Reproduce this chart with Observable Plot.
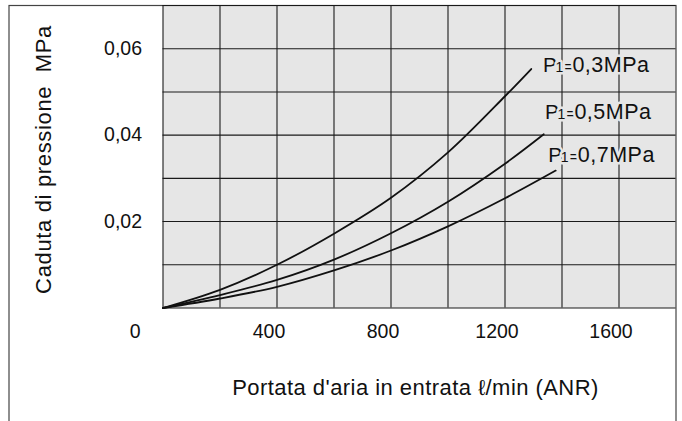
<!DOCTYPE html>
<html><head><meta charset="utf-8">
<script src="https://cdn.jsdelivr.net/npm/d3@7"></script>
<script src="https://cdn.jsdelivr.net/npm/@observablehq/plot@0.6"></script>
<style>
html,body{margin:0;padding:0;background:#fff;overflow:hidden;}
</style></head><body><div id="chart"></div>
<script>
// Series (flow l/min, pressure drop MPa)
const x03 = [0, 200, 400, 600, 800, 1000, 1200, 1292];
const y03 = [0, 0.0042, 0.0100, 0.0172, 0.0255, 0.0360, 0.0490, 0.0553];
const x05 = [0, 200, 400, 600, 800, 1000, 1200, 1336];
const y05 = [0, 0.0030, 0.0065, 0.0112, 0.0173, 0.0246, 0.0334, 0.0402];
const x07 = [0, 200, 400, 600, 800, 1000, 1200, 1378];
const y07 = [0, 0.0022, 0.0049, 0.0087, 0.0133, 0.0189, 0.0254, 0.0318];
const pressures = ["0,3MPa", "0,5MPa", "0,7MPa"];
const labelX = [1333, 1340, 1352];
const labelY = [0.0546, 0.0438, 0.0339];
const xTicks = [400, 800, 1200, 1600];
const yTicks = [0.02, 0.04, 0.06];
const xGrid = [0, 200, 400, 600, 800, 1000, 1200, 1400, 1600];
const yGrid = [0, 0.01, 0.02, 0.03, 0.04, 0.05, 0.06, 0.07];
const originLabel = ["0"];
const xLabel = ["Portata d'aria in entrata \u2113/min (ANR)"];
const yLabel = ["Caduta di pressione\u00a0\u00a0MPa"];

const series = [[x03, y03], [x05, y05], [x07, y07]];
const rows = series.flatMap(([xs, ys], k) => xs.map((x, i) => ({x, y: ys[i], p: pressures[k]})));

const FONT = "'Liberation Sans', Arial, Helvetica, sans-serif";
const BG = "#e6e6e6";
const INK = "#111";
const idx = pressures.map((d, i) => i);

const svg = Plot.plot({
  width: 682, height: 421,
  marginLeft: 162.5, marginRight: 6.5, marginTop: 5, marginBottom: 113.5,
  x: {domain: [0, 1800], axis: null},
  y: {domain: [0, 0.07], axis: null},
  style: {fontFamily: FONT, overflow: "hidden", background: "#fff"},
  marks: [
    Plot.frame({fill: BG}),
    Plot.frame({stroke: "#444", strokeWidth: 1.2, insetLeft: -154, insetTop: 0, insetRight: 0, insetBottom: -140}),
    Plot.ruleX(xGrid, {stroke: "#1a1a1a", strokeWidth: 1.1}),
    Plot.ruleY(yGrid, {stroke: "#1a1a1a", strokeWidth: 1.1}),
    Plot.line(rows, {x: "x", y: "y", z: "p", stroke: INK, strokeWidth: 1.8, curve: "catmull-rom"}),
    // series labels: "P", small "1", "=", value
    Plot.text(idx, {x: i => labelX[i], y: i => labelY[i], text: () => "P", textAnchor: "start", lineAnchor: "bottom",
      fontSize: 20.5, fill: INK, stroke: BG, strokeWidth: 5, fontFamily: FONT}),
    Plot.text(idx, {x: i => labelX[i], y: i => labelY[i], text: () => "1", textAnchor: "start", lineAnchor: "bottom",
      dx: 12.5, fontSize: 14, fill: INK, stroke: BG, strokeWidth: 5, fontFamily: FONT}),
    Plot.text(idx, {x: i => labelX[i], y: i => labelY[i], text: () => "=", textAnchor: "start", lineAnchor: "bottom",
      dx: 21.5, fontSize: 14, fill: INK, stroke: BG, strokeWidth: 5, fontFamily: FONT}),
    Plot.text(idx, {x: i => labelX[i], y: i => labelY[i], text: i => pressures[i], textAnchor: "start", lineAnchor: "bottom",
      dx: 29.5, fontSize: 21.5, fill: INK, stroke: BG, strokeWidth: 5, fontFamily: FONT}),
    // tick labels
    Plot.text(xTicks, {x: d => d, y: () => 0, text: d => String(d), textAnchor: "middle", lineAnchor: "bottom",
      dx: -8, dy: 30.2, fontSize: 19.5, fill: INK, fontFamily: FONT}),
    Plot.text(originLabel, {x: () => 0, y: () => 0, text: d => d, textAnchor: "end", lineAnchor: "bottom",
      dx: -22.4, dy: 30.2, fontSize: 19.5, fill: INK, fontFamily: FONT}),
    Plot.text(yTicks, {x: () => 0, y: d => d, text: d => d.toFixed(2).replace(".", ","), textAnchor: "end",
      dx: -21, fontSize: 19.5, fill: INK, fontFamily: FONT}),
    // axis titles
    Plot.text(xLabel, {frameAnchor: "bottom", text: d => d, textAnchor: "middle", lineAnchor: "bottom",
      dx: -4, dy: 86.5, fontSize: 22, fill: INK, fontFamily: FONT}),
    Plot.text(yLabel, {frameAnchor: "left", text: d => d, rotate: -90, textAnchor: "middle", lineAnchor: "bottom",
      dx: -111.8, dy: 2.75, fontSize: 22, fill: INK, fontFamily: FONT})
  ]
});
d3.select(svg).selectAll("text").each(function () {
  const t = this.textContent;
  if (t === xLabel[0]) this.style.letterSpacing = "0.45px";
  else if (t === yLabel[0]) this.style.letterSpacing = "0.65px";
  else if (pressures.includes(t)) this.style.letterSpacing = "0.5px";
});
document.getElementById("chart").appendChild(svg);
</script></body></html>
